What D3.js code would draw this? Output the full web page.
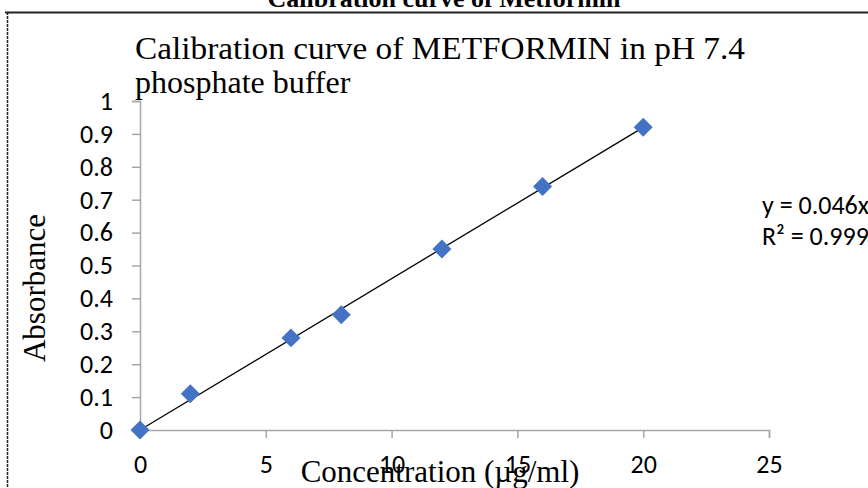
<!DOCTYPE html>
<html>
<head>
<meta charset="utf-8">
<script src="https://cdn.jsdelivr.net/npm/d3@7"></script>
<style>
  body { margin: 0; background: #fff; }
  svg { display: block; }
</style>
</head>
<body>
<div id="chart"></div>
<script>
// concentration (µg/ml) vs absorbance
const concentration = [0, 2, 6, 8, 12, 16, 20];
const absorbance = [0, 0.11, 0.28, 0.35, 0.55, 0.74, 0.92];
const slope = 0.046;
const xTicks = [0, 5, 10, 15, 20, 25];
const yTicks = [0, 0.1, 0.2, 0.3, 0.4, 0.5, 0.6, 0.7, 0.8, 0.9, 1];
const titleLines = ["Calibration curve of METFORMIN in pH 7.4", "phosphate buffer"];
const equationLines = ["y = 0.046x", "R\u00b2 = 0.999"];

const width = 868, height = 488;
const tickFont = "Carlito, Lato, sans-serif";
const serif = "'Liberation Serif', 'Times New Roman', serif";
const axisColor = "#a6a6a6";

const svg = d3.select("#chart").append("svg")
    .attr("width", width)
    .attr("height", height);

// caption above the frame (cut off at the top)
svg.append("text")
    .attr("x", 444).attr("y", 7)
    .attr("text-anchor", "middle")
    .style("font", `bold 26px ${serif}`)
    .text("Calibration curve of Metformin");

// frame
svg.append("line")
    .attr("x1", 5).attr("x2", width).attr("y1", 12.5).attr("y2", 12.5)
    .attr("stroke", "#222").attr("stroke-width", 2);
svg.append("line")
    .attr("x1", 7.5).attr("x2", 7.5).attr("y1", 12).attr("y2", height)
    .attr("stroke", "#222").attr("stroke-width", 1.5)
    .attr("stroke-dasharray", "3,1");

const x = d3.scaleLinear().domain([0, 25]).range([140, 769]);
const y = d3.scaleLinear().domain([0, 1]).range([430, 101]);

// y axis
const yAxis = svg.append("g")
    .attr("transform", `translate(${x(0)},0)`)
    .call(d3.axisLeft(y).tickValues(yTicks).tickSize(8).tickPadding(19)
        .tickFormat(d => d3.format("~g")(d)));
yAxis.select(".domain").attr("stroke", axisColor).attr("stroke-width", 1.5);
yAxis.selectAll(".tick line").attr("stroke", axisColor).attr("stroke-width", 1.5);
yAxis.selectAll(".tick text")
    .attr("fill", "#000")
    .style("font", `26px ${tickFont}`);

// x axis
const xAxis = svg.append("g")
    .attr("transform", `translate(0,${y(0)})`)
    .call(d3.axisBottom(x).tickValues(xTicks).tickSize(8).tickPadding(17));
xAxis.select(".domain").attr("stroke", axisColor).attr("stroke-width", 1.5);
xAxis.selectAll(".tick line").attr("stroke", axisColor).attr("stroke-width", 1.5);
xAxis.selectAll(".tick text")
    .attr("fill", "#000")
    .style("font", `26px ${tickFont}`);

// linear trendline
svg.append("line")
    .attr("x1", x(0)).attr("y1", y(0))
    .attr("x2", x(d3.max(concentration))).attr("y2", y(slope * d3.max(concentration)))
    .attr("stroke", "#000").attr("stroke-width", 1.3);

// markers
const diamond = d3.symbol(d3.symbolSquare, 180);
svg.append("g")
    .selectAll("path")
    .data(concentration.map((c, i) => [c, absorbance[i]]))
    .join("path")
    .attr("d", diamond)
    .attr("transform", d => `translate(${x(d[0])},${y(d[1])}) rotate(45)`)
    .attr("fill", "#4472c4");

// trendline label
svg.append("g")
    .selectAll("text")
    .data(equationLines)
    .join("text")
    .attr("x", 762)
    .attr("y", (d, i) => 214 + i * 31)
    .style("font", `26px ${tickFont}`)
    .text(d => d);

// chart title
svg.append("g")
    .selectAll("text")
    .data(titleLines)
    .join("text")
    .attr("x", 135)
    .attr("y", (d, i) => 59 + i * 34)
    .attr("textLength", (d, i) => i === 0 ? 610 : null)
    .attr("lengthAdjust", "spacingAndGlyphs")
    .style("font", `32px ${serif}`)
    .text(d => d);

// axis titles
svg.append("text")
    .attr("transform", "translate(45,288) rotate(-90)")
    .attr("text-anchor", "middle")
    .style("font", `31px ${serif}`)
    .text("Absorbance");

svg.append("text")
    .attr("x", 440).attr("y", 482)
    .attr("text-anchor", "middle")
    .style("font", `31px ${serif}`)
    .text("Concentration (\u00b5g/ml)");
</script>
</body>
</html>
